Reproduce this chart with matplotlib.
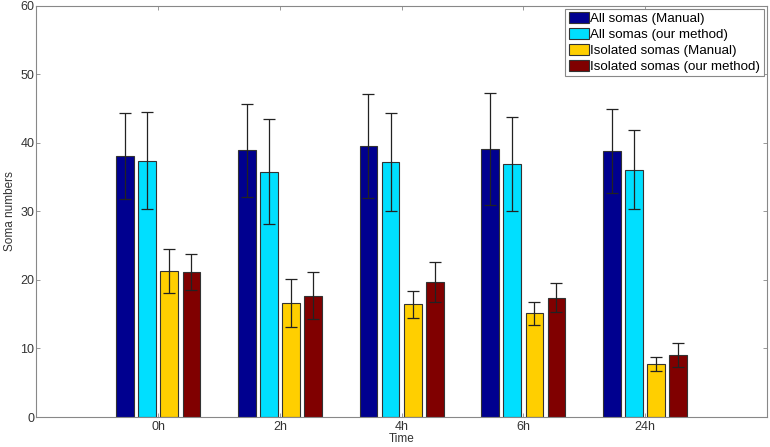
import numpy as np
import matplotlib.pyplot as plt

plt.rcParams['font.family'] = ['Liberation Sans', 'DejaVu Sans']

times = ['0h', '2h', '4h', '6h', '24h']
series = ['All somas (Manual)', 'All somas (our method)',
          'Isolated somas (Manual)', 'Isolated somas (our method)']

all_manual = [38.1, 38.9, 39.5, 39.1, 38.8]
all_ours = [37.4, 35.8, 37.2, 36.9, 36.1]
iso_manual = [21.3, 16.7, 16.45, 15.1, 7.7]
iso_ours = [21.2, 17.7, 19.7, 17.4, 9.0]

all_manual_err = [6.3, 6.8, 7.6, 8.2, 6.1]
all_ours_err = [7.1, 7.7, 7.2, 6.8, 5.7]
iso_manual_err = [3.2, 3.5, 2.0, 1.75, 1.05]
iso_ours_err = [2.6, 3.4, 2.9, 2.1, 1.75]

means = [all_manual, all_ours, iso_manual, iso_ours]
errs = [all_manual_err, all_ours_err, iso_manual_err, iso_ours_err]
colors = ['#00008F', '#00DFFF', '#FFCF00', '#800000']

fig = plt.figure(figsize=(7.7, 4.47), dpi=100)
ax = fig.add_axes([0.0474, 0.0671, 0.9483, 0.9201])

x = np.arange(1, len(times) + 1)
# grouped bars the way matlab spaces them
group_w = 4 / 5.5
step = group_w / 4
bar_w = step * 0.8

for i in range(4):
    pos = x + (i - 1.5) * step
    ax.bar(pos, means[i], width=bar_w, color=colors[i], edgecolor='#333333',
           linewidth=0.8, label=series[i], zorder=2)
    ax.errorbar(pos, means[i], yerr=errs[i], fmt='none', ecolor='#222222',
                elinewidth=0.9, capsize=4, capthick=0.9, zorder=3)

ax.set_xlim(0, 6)
ax.set_ylim(0, 60)
ax.set_xticks(x)
ax.set_xticklabels(times)
ax.set_yticks(range(0, 61, 10))

for s in ax.spines.values():
    s.set_color('#888888')
    s.set_linewidth(0.8)
ax.tick_params(direction='in', length=3, width=0.6, colors='#888888',
               labelcolor='#333333', labelsize=9, top=True, right=True)
ax.tick_params(axis='y', pad=1.5)
ax.tick_params(axis='x', pad=3)

ax.set_xlabel('Time', fontsize=8.5, color='#333333', labelpad=0)
ax.set_ylabel('Soma numbers', fontsize=8.5, color='#333333', labelpad=3)

leg = ax.legend(loc='upper right', fontsize=9.6, fancybox=False, framealpha=1,
                edgecolor='#888888', borderpad=0.25, labelspacing=0.22,
                handlelength=1.55, handleheight=0.87, handletextpad=0.08,
                borderaxespad=0.22)
leg.get_frame().set_linewidth(0.8)

fig.savefig('out.png', dpi=100)
